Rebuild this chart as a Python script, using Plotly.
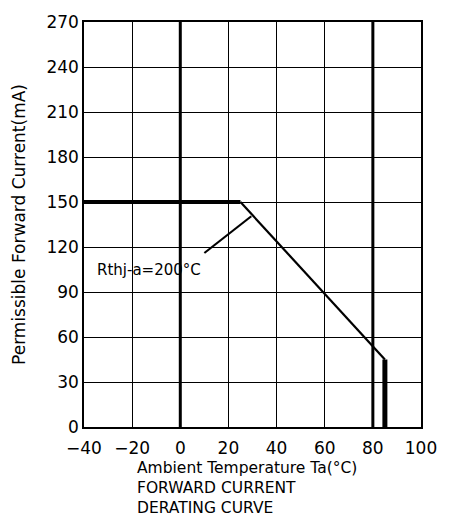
import plotly.graph_objects as go

# Data
temp = [-40, 25, 85, 85]          # Ambient temperature (°C)
current = [150, 150, 45, 0]       # Permissible forward current (mA)
x_ticks = [-40, -20, 0, 20, 40, 60, 80, 100]
x_tick_labels = ["\u221240", "\u221220", "0", "20", "40", "60", "80", "100"]
y_ticks = [0, 30, 60, 90, 120, 150, 180, 210, 240, 270]
y_tick_labels = [str(v) for v in y_ticks]
emphasized_x = [0, 80]
pointer_x = [10, 29.5]
pointer_y = [116, 140.5]
label_text = "Rthj-a=200°C"

FONT = "DejaVu Sans"
fig = go.Figure()

# thick gridlines at 0 and 80
for xv in emphasized_x:
    fig.add_trace(go.Scatter(x=[xv, xv], y=[0, 270], mode="lines",
                             line=dict(color="black", width=3), hoverinfo="skip"))

# curve segments with different thickness
fig.add_trace(go.Scatter(x=temp[0:2], y=current[0:2], mode="lines",
                         line=dict(color="black", width=4)))
fig.add_trace(go.Scatter(x=temp[1:3], y=current[1:3], mode="lines",
                         line=dict(color="black", width=2.2)))
fig.add_trace(go.Scatter(x=temp[2:4], y=current[2:4], mode="lines",
                         line=dict(color="black", width=5)))
# annotation pointer
fig.add_trace(go.Scatter(x=pointer_x, y=pointer_y, mode="lines",
                         line=dict(color="black", width=2.2)))

fig.add_annotation(x=-13, y=105, text=label_text, showarrow=False,
                   font=dict(family=FONT, size=15, color="black"))

fig.add_annotation(xref="paper", yref="paper", x=0.152, y=-0.074,
                   xanchor="left", yanchor="top", showarrow=False, align="left",
                   text="Ambient Temperature Ta(°C)<br>FORWARD CURRENT<br>DERATING CURVE",
                   font=dict(family=FONT, size=15.5, color="black"))

fig.update_layout(
    width=449, height=518,
    margin=dict(l=84, r=23, t=18, b=91),
    paper_bgcolor="white", plot_bgcolor="white",
    showlegend=False,
    font=dict(family=FONT, size=15, color="black"),
    xaxis=dict(range=[-40, 100], tickvals=x_ticks, ticktext=x_tick_labels,
               showgrid=True, gridcolor="black", gridwidth=1.2,
               zeroline=False, showline=True, linecolor="black", linewidth=1.5,
               mirror=True, ticks="", tickfont=dict(size=17),
               ticklabelstandoff=5),
    yaxis=dict(range=[0, 270], tickvals=y_ticks, ticktext=y_tick_labels,
               showgrid=True, gridcolor="black", gridwidth=1.2,
               zeroline=False, showline=True, linecolor="black", linewidth=1.5,
               mirror=True, ticks="", tickfont=dict(size=17),
               title=dict(text="Permissible Forward Current(mA)",
                          font=dict(size=17), standoff=16)),
)

fig.write_html("out.html", config={"displayModeBar": False},
               post_script="document.body.style.margin='0';")
